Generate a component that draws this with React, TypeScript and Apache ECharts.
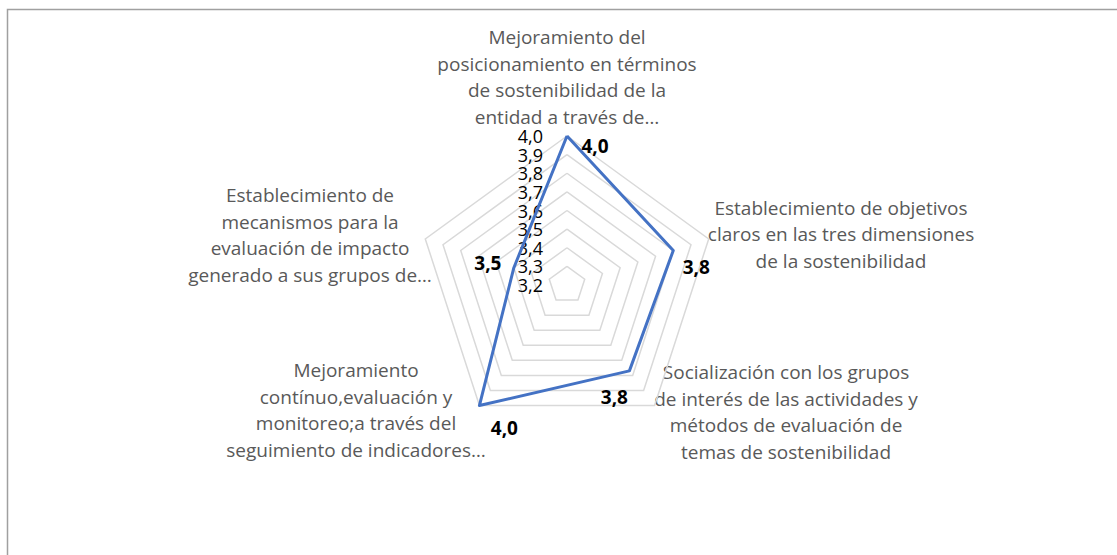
import React, { useEffect, useRef } from "react";
import * as echarts from "echarts";

// Categories in Excel (clockwise from top) order
const categories: string[] = [
  "Mejoramiento del\nposicionamiento en términos\nde sostenibilidad de la\nentidad a través de…",
  "Establecimiento de objetivos\nclaros en las tres dimensiones\nde la sostenibilidad",
  "Socialización con los grupos\nde interés de las actividades y\nmétodos de evaluación de\ntemas de sostenibilidad",
  "Mejoramiento\ncontínuo,evaluación y\nmonitoreo;a través del\nseguimiento de indicadores…",
  "Establecimiento de\nmecanismos para la\nevaluación de impacto\ngenerado a sus grupos de…",
];
const values: number[] = [4.0, 3.8, 3.77, 4.0, 3.5];
const axisMin = 3.2;
const axisMax = 4.0;
const axisStep = 0.1;

// layout
const CX = 567;
const CY = 285;
const R = 149;
const namePositions: [number, number][] = [
  [567, 77],
  [841, 234],
  [786, 412],
  [356, 410],
  [310, 235],
];
const labelOffsets: [number, number][] = [
  [28, 10],
  [23, 17],
  [-15, 26],
  [25, 22],
  [-26, -5],
];

const fmt = (v: number) => v.toFixed(1).replace(".", ",");
const FONT = '"Open Sans", "DejaVu Sans", sans-serif';

export default function App() {
  const ref = useRef<HTMLDivElement>(null);
  useEffect(() => {
    if (!ref.current) return;
    const chart = echarts.init(ref.current, undefined, { renderer: "svg" });
    // ECharts radar runs counter-clockwise: reorder to match clockwise layout
    const order = [0, 4, 3, 2, 1];
    const indicator = order.map((i) => ({
      name: categories[i],
      min: axisMin,
      max: axisMax,
    }));
    const radarValues = order.map((i) => values[i]);

    const option: any = {
      animation: false,
      backgroundColor: "#ffffff",
      grid: { left: CX, top: CY - R, width: 10, height: R },
      xAxis: { type: "value", show: false },
      yAxis: {
        type: "value",
        min: axisMin,
        max: axisMax,
        interval: axisStep,
        axisLine: { show: false },
        axisTick: { show: false },
        splitLine: { show: false },
        axisLabel: {
          formatter: (v: number) => fmt(v),
          margin: 24,
          fontSize: 18,
          lineHeight: 18,
          fontFamily: FONT,
          color: "#000000",
          showMinLabel: true,
          showMaxLabel: true,
        },
      },
      radar: {
        center: [CX, CY],
        radius: R,
        startAngle: 90,
        splitNumber: Math.round((axisMax - axisMin) / axisStep),
        shape: "polygon",
        indicator,
        axisName: { show: false },
        axisLine: { show: false },
        axisTick: { show: false },
        axisLabel: { show: false },
        splitArea: { show: false },
        splitLine: { lineStyle: { color: "#d9d9d9", width: 1.5 } },
      },
      graphic: [
        {
          type: "rect",
          shape: { x: 7.5, y: 9.5, width: 1300, height: 700 },
          style: { fill: "none", stroke: "#a0a0a0", lineWidth: 1.5 },
          silent: true,
        },
        ...categories.map((c, i) => ({
          type: "text",
          x: namePositions[i][0],
          y: namePositions[i][1],
          style: {
            text: c,
            fill: "#595959",
            fontSize: 19,
            fontFamily: FONT,
            lineHeight: 26.5,
            align: "center",
            verticalAlign: "middle",
          },
          silent: true,
        })),
      ],
      series: [
        {
          type: "radar",
          symbol: "circle",
          symbolSize: 1,
          lineStyle: { color: "#4472C4", width: 3 },
          itemStyle: { color: "#4472C4" },
          label: {
            show: true,
            position: "inside",
            formatter: (p: any) => fmt(p.value),
            fontSize: 19,
            fontWeight: "bold",
            fontFamily: FONT,
            color: "#000000",
          },
          labelLayout: (p: any) => {
            const r = p.rect;
            const x = r.x + r.width / 2;
            const y = r.y + r.height / 2;
            const ang = (Math.atan2(x - CX, CY - y) * 180) / Math.PI;
            const k = Math.round(((ang + 360) % 360) / 72) % 5;
            return { dx: labelOffsets[k][0], dy: labelOffsets[k][1] };
          },
          data: [{ value: radarValues }],
        },
      ],
    };
    chart.setOption(option);
    return () => chart.dispose();
  }, []);
  return (
    <div
      ref={ref}
      style={{ position: "fixed", left: 0, top: 0, width: 1117, height: 555 }}
    />
  );
}
